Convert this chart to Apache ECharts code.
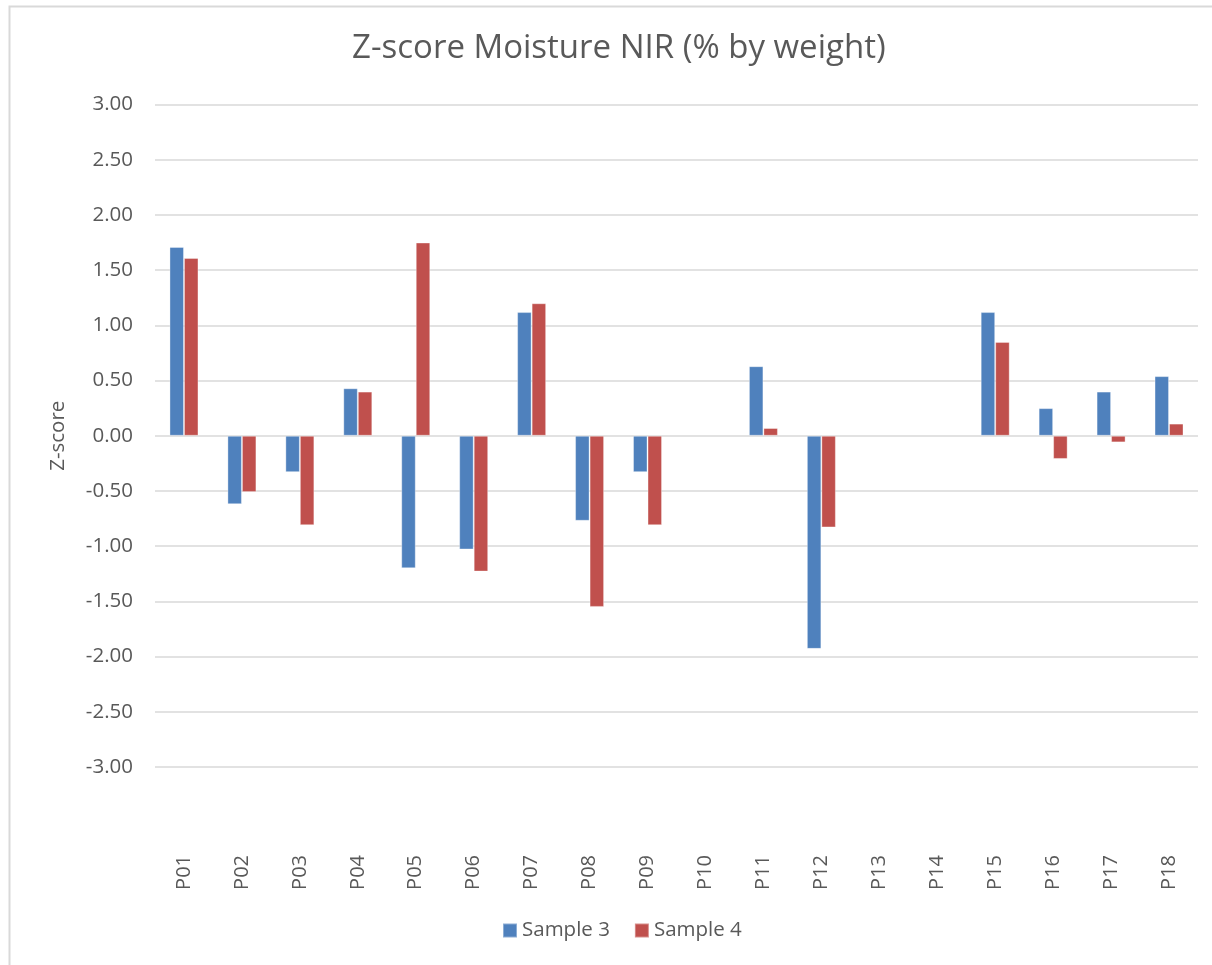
<!DOCTYPE html>
<html>

<head>
    <meta http-equiv="Content-Type" content="text/html; charset=utf-8">
    <title>Z-score Moisture NIR</title>
    <script src="https://cdn.jsdelivr.net/npm/echarts@6.0.0/dist/echarts.min.js"></script>
    <style>
        html, body { margin: 0; padding: 0; background: #fff; }
    </style>
</head>

<body>
    <div id="chart" style="width: 1212px;height:965px;"></div>
    <script type="text/javascript">
        var participants = ['P01', 'P02', 'P03', 'P04', 'P05', 'P06', 'P07', 'P08', 'P09',
            'P10', 'P11', 'P12', 'P13', 'P14', 'P15', 'P16', 'P17', 'P18'];
        var sample3 = [1.71, -0.62, -0.33, 0.43, -1.20, -1.03, 1.12, -0.77, -0.33,
            null, 0.63, -1.93, null, null, 1.12, 0.25, 0.40, 0.54];
        var sample4 = [1.61, -0.51, -0.81, 0.40, 1.75, -1.23, 1.20, -1.55, -0.81,
            null, 0.07, -0.83, null, null, 0.85, -0.21, -0.06, 0.11];

        var font = '"Open Sans", "Noto Sans", sans-serif';
        var textColor = '#595959';

        var chart = echarts.init(document.getElementById('chart'));
        var option = {
            animation: false,
            textStyle: { fontFamily: font },
            title: {
                text: 'Z-score Moisture NIR (% by weight)',
                left: 347,
                top: 27,
                textStyle: { fontFamily: font, fontSize: 33, fontWeight: 'normal', color: textColor }
            },
            graphic: [{
                type: 'rect',
                shape: { x: 9.5, y: 6.5, width: 1300, height: 1100 },
                style: { fill: 'none', stroke: '#D9D9D9', lineWidth: 2 },
                silent: true
            }],
            legend: {
                bottom: 19,
                left: 497,
                icon: 'rect',
                itemWidth: 14,
                itemHeight: 14,
                itemGap: 24,
                textStyle: { fontFamily: font, fontSize: 20.5, color: textColor }
            },
            grid: {
                left: 155,
                right: 14,
                top: 104.5,
                bottom: 198
            },
            xAxis: {
                type: 'category',
                data: participants,
                axisLine: { show: false, onZero: false },
                axisTick: { show: false },
                axisLabel: {
                    rotate: 90,
                    margin: 88,
                    interval: 0,
                    fontFamily: font,
                    fontSize: 20,
                    color: textColor
                }
            },
            yAxis: {
                type: 'value',
                min: -3,
                max: 3,
                interval: 0.5,
                name: 'Z-score',
                nameLocation: 'middle',
                nameGap: 86,
                nameTextStyle: { fontFamily: font, fontSize: 20.5, color: textColor },
                axisLabel: {
                    margin: 22,
                    fontFamily: font,
                    fontSize: 20.5,
                    color: textColor,
                    formatter: function (v) { return v.toFixed(2); }
                },
                splitLine: { lineStyle: { color: '#D9D9D9', width: 1.5 } }
            },
            series: [
                {
                    name: 'Sample 3',
                    type: 'bar',
                    data: sample3,
                    barWidth: 14.5,
                    barGap: '0%',
                    itemStyle: { color: '#4F81BD', borderColor: 'rgba(255,255,255,0.35)', borderWidth: 1 }
                },
                {
                    name: 'Sample 4',
                    type: 'bar',
                    data: sample4,
                    barWidth: 14.5,
                    barGap: '0%',
                    itemStyle: { color: '#C0504D', borderColor: 'rgba(255,255,255,0.35)', borderWidth: 1 }
                }
            ]
        };

        chart.setOption(option);
    </script>
</body>

</html>
